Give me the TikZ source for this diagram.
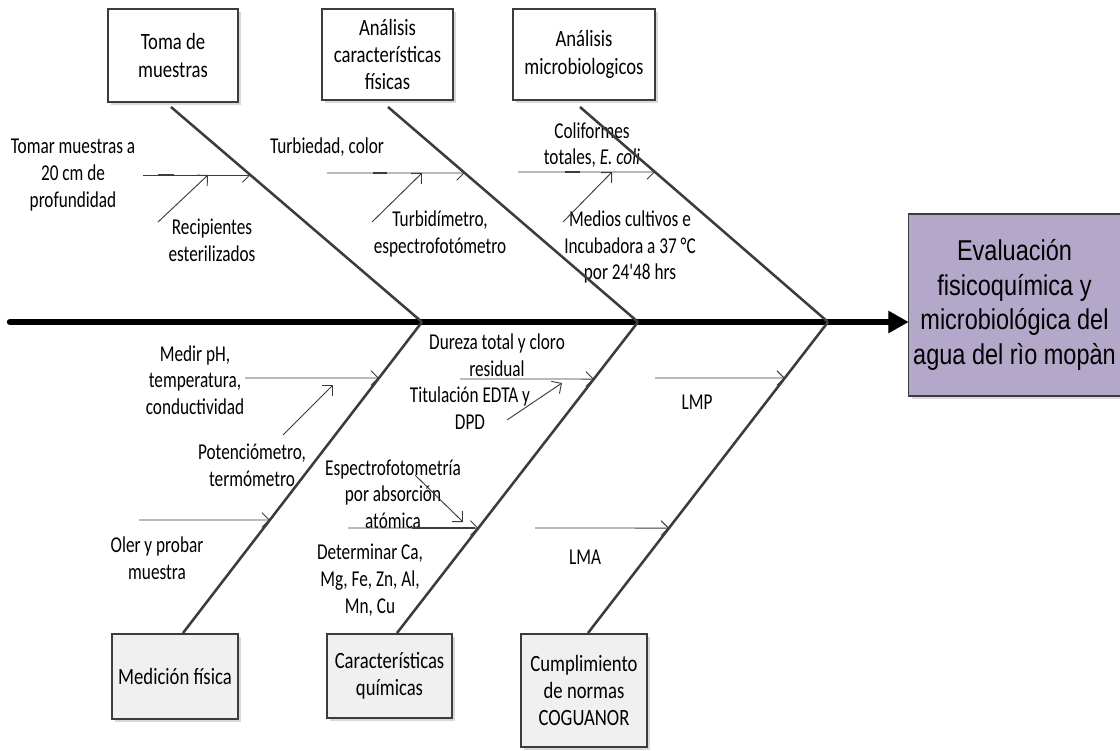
\documentclass[tikz,border=0pt]{standalone}
\usepackage{fontspec}
\newfontfamily\calib[FakeStretch=0.76]{Carlito}
\newfontfamily\calibbox[FakeStretch=0.8]{Carlito}
\newfontfamily\arialf[FakeStretch=0.82]{Liberation Sans}
\usetikzlibrary{arrows.meta,shadows}
\definecolor{linec}{RGB}{60,60,60}
\definecolor{mainfill}{RGB}{180,168,202}
\definecolor{boxfill}{RGB}{240,240,240}
\begin{document}
\begin{tikzpicture}[x=0.75pt,y=-0.75pt,
  lbl/.style={font=\calib\fontsize{17}{20}\selectfont, align=center, inner sep=0pt, text=black},
  catbox/.style={draw=linec, line width=0.8pt, align=center, inner sep=2pt,
    font=\calibbox\fontsize{17.5}{20.5}\selectfont,
    drop shadow={shadow xshift=2.5pt, shadow yshift=-2.5pt, opacity=0.3}},
  topbox/.style={catbox, fill=white},
  botbox/.style={catbox, fill=boxfill},
  mainbox/.style={draw=linec, line width=0.8pt, fill=mainfill, align=center,
    font=\arialf\fontsize{21.5}{26}\selectfont,
    minimum width=155.25pt, minimum height=136.5pt,
    drop shadow={shadow xshift=2.5pt, shadow yshift=-2.5pt, opacity=0.3}},
  bone/.style={draw=linec, line width=1.9pt},
  sub/.style={draw=linec, line width=0.7pt, -{Straight Barb[length=5.5pt,width=11pt]}},
  seg/.style={draw=linec, line width=1.8pt},
  spine/.style={draw=black, line width=4.8pt, line cap=round,
    -{Triangle[length=15pt,width=17pt,line width=0.1pt]}}
]
\useasboundingbox (0,0) rectangle (1120,750);

% category boxes
\node[topbox, minimum width=97.5pt, minimum height=69.75pt] (t1) at (173,55.5) {Toma de\\muestras};
\node[topbox, minimum width=98.25pt, minimum height=68.25pt] (t2) at (387.5,54.5) {Análisis\\características\\físicas};
\node[topbox, minimum width=106.5pt, minimum height=68.25pt] (t3) at (584,54.5) {Análisis\\microbiologicos};
\node[botbox, minimum width=94.5pt, minimum height=63.75pt] (m1) at (175,676.5) {Medición física};
\node[botbox, minimum width=93.75pt, minimum height=63pt] (m2) at (389.5,676) {Características\\químicas};
\node[botbox, minimum width=94.5pt, minimum height=84.75pt] (m3) at (584,690.5) {Cumplimiento\\de normas\\COGUANOR};
\node[mainbox] (main) at (1014.5,305) {Evaluación\\fisicoquímica y\\microbiológica del\\agua del rìo mopàn};

% labels
\node[lbl] (l1) at (73,175) {Tomar muestras a\\20 cm de\\profundidad};
\node[lbl] (l2) at (212,240) {Recipientes\\esterilizados};
\node[lbl] (l3) at (327,147) {Turbiedad, color};
\node[lbl] (l4) at (440,234) {Turbidímetro,\\espectrofotómetro};
\node[lbl] (l5) at (592,145) {Coliformes\\totales, \textit{E. coli}};
\node[lbl] (l6) at (630,247) {Medios cultivos e\\Incubadora a 37 °C\\por 24'48 hrs};
\node[lbl] (l7) at (195,380) {Medir pH,\\temperatura,\\conductividad};
\node[lbl] (l8) at (252,465) {Potenciómetro,\\termómetro};
\node[lbl] (l9) at (157,558) {Oler y probar\\muestra};
\node[lbl] (l10) at (497,355) {Dureza total y cloro\\residual};
\node[lbl] (l11) at (470,408) {Titulación EDTA y\\DPD};
\node[lbl] (l12) at (393,494) {Espectrofotometría\\por absorción\\atómica};
\node[lbl] (l13) at (370,580) {Determinar Ca,\\Mg, Fe, Zn, Al,\\Mn, Cu};
\node[lbl] (l14) at (697,402) {LMP};
\node[lbl] (l15) at (585,557) {LMA};

% bone points
\coordinate (b1s) at (171,107); \coordinate (j1) at (422,322);
\coordinate (b2s) at (388,107); \coordinate (j2) at (638,322);
\coordinate (b3s) at (580,107); \coordinate (j3) at (828,322);
\coordinate (d1e) at (183,633); \coordinate (d2e) at (397,633); \coordinate (d3e) at (588,633);
\coordinate (sp0) at (10,322);

% spine
\draw[spine] (sp0) -- (sp0 -| main.west);

% bones
\draw[bone] (b1s) -- (j1);
\draw[bone] (b2s) -- (j2);
\draw[bone] (b3s) -- (j3);
\draw[bone] (j1) -- (d1e);
\draw[bone] (j2) -- (d2e);
\draw[bone] (j3) -- (d3e);

% sub-cause arrows
\coordinate (h1s) at (143,175); \coordinate (h1e) at (intersection of b1s--j1 and 0,175--1100,175);
\coordinate (g1s) at (158,222); \coordinate (g1e) at (208,175);
\coordinate (h2s) at (327,173); \coordinate (h2e) at (intersection of b2s--j2 and 0,173--1100,173);
\coordinate (g2s) at (372,222); \coordinate (g2e) at (422,173);
\coordinate (h3s) at (518,172); \coordinate (h3e) at (intersection of b3s--j3 and 0,172--1100,172);
\coordinate (g3s) at (563,222); \coordinate (g3e) at (612,172);
\coordinate (h4s) at (245,378); \coordinate (h4e) at (intersection of j1--d1e and 0,378--1100,378);
\coordinate (g4s) at (283,435); \coordinate (g4e) at (333,385);
\coordinate (h5s) at (139,520); \coordinate (h5e) at (intersection of j1--d1e and 0,520--1100,520);
\coordinate (h6s) at (460,379); \coordinate (h6e) at (intersection of j2--d2e and 0,379--1100,379);
\coordinate (g6s) at (507,420); \coordinate (g6e) at (562,383);
\coordinate (h7s) at (348,528); \coordinate (h7e) at (intersection of j2--d2e and 0,528--1100,528);
\coordinate (g7s) at (415,475); \coordinate (g7e) at (463,522);
\coordinate (h8s) at (655,378); \coordinate (h8e) at (intersection of j3--d3e and 0,378--1100,378);
\coordinate (h9s) at (535,528); \coordinate (h9e) at (intersection of j3--d3e and 0,528--1100,528);

\foreach \a in {h1,g1,h2,g2,h3,g3,h4,g4,h5,h6,g6,h7,g7,h8,h9}
  \draw[sub] (\a s) -- (\a e);

% short darker segments on some arrows
\coordinate (s1a) at (158,175); \coordinate (s1b) at (174,175);
\coordinate (s2a) at (373,173); \coordinate (s2b) at (387,173);
\coordinate (s3a) at (565,172); \coordinate (s3b) at (580,172);
\coordinate (s4a) at (412,528); \coordinate (s4b) at (475,528);
\foreach \a in {s1,s2,s3,s4}
  \draw[seg] (\a a) -- (\a b);
\end{tikzpicture}
\end{document}
